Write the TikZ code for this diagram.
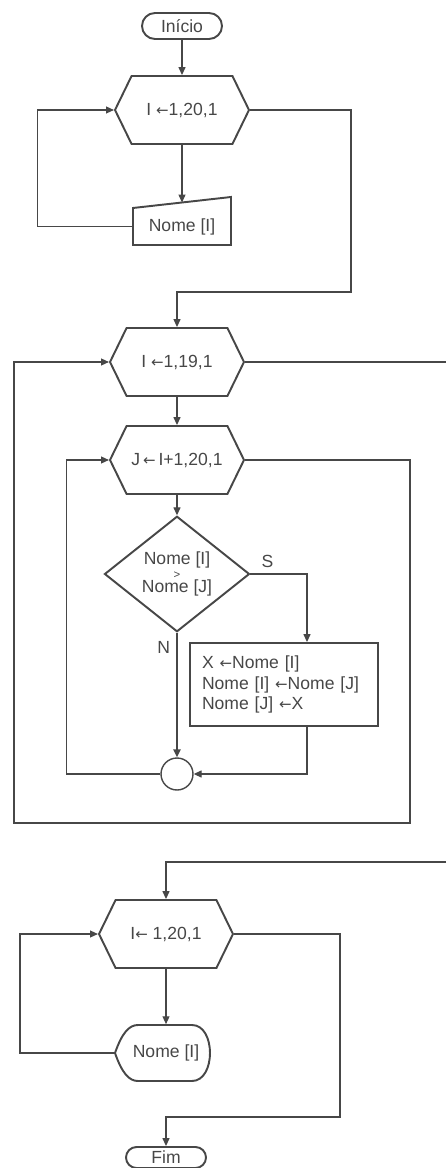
\documentclass[tikz,border=0pt]{standalone}
\usepackage{fontspec}
\setmainfont{Liberation Sans}
\newfontfamily\setafont{DejaVu Sans}
\usetikzlibrary{positioning,arrows.meta,calc,shapes.misc,shapes.symbols,shapes.geometric}
\colorlet{fluxo}{black!72}
\def\pxu{0.02cm}
\newcommand{\atr}{{\setafont\fontsize{8.5}{8.5}\selectfont ←}}

\begin{document}
\begin{tikzpicture}[x=0.02cm, y=-0.02cm, >={Triangle[length=4.5pt,width=4pt]},
    every node/.style={font=\fontsize{10}{11.5}\selectfont, text=fluxo},
    linha/.style={draw=fluxo, line width=0.6pt},
    seta/.style={linha, ->},
    borda/.style={draw=fluxo, line width=1.1pt},
    term/.style={borda, rounded rectangle, minimum width=80*\pxu, minimum height=26*\pxu, inner sep=0pt},
    laco/.style={borda, signal, signal to=west and east, signal pointer angle=128,
      minimum width=134*\pxu, minimum height=68*\pxu, inner sep=0pt},
    decisao/.style={borda, diamond, minimum width=145*\pxu, minimum height=103*\pxu, inner sep=0pt,
      align=center, font=\fontsize{10}{8.2}\selectfont},
    proc/.style={borda, rectangle, text width=164*\pxu, inner xsep=12*\pxu, minimum height=83*\pxu, align=left},
    con/.style={draw=fluxo, line width=0.8pt, circle, minimum size=32*\pxu, inner sep=0pt}]
  \useasboundingbox (0,0) rectangle (446,1168);

  % leitura dos nomes
  \node[term] (ini) at (182,26) {Início};
  \node[laco] (h1) at (182,110) {I \atr1,20,1};
  \node[inner sep=0pt, minimum width=98*\pxu, minimum height=37*\pxu] (rd1) at (182,226.5) {Nome [I]};
  \draw[borda, shift={(rd1)}] (-49,18.5) -- (-49,-18.5) -- (0,-24) coordinate (rd1t) -- (49,-29.5) -- (49,18.5) -- cycle;

  \draw[seta] (ini.south) -- (h1.north);
  \draw[seta] (h1.south) -- (rd1t);
  \draw[seta] (rd1.west) -- ++(-95,0) |- (h1.west);

  % ordenacao
  \node[laco] (h2) at (177,362) {I \atr1,19,1};
  \node[laco] (h3) at (177,460) {J\,\atr\,I+1,20,1};
  \node[decisao] (dec) at (177,574) {Nome [I]\\{\fontsize{6.5}{6.5}\selectfont >}\\Nome [J]};
  \node[proc] (troca) at (284,684.5) {X \atr Nome [I]\\Nome [I] \atr Nome [J]\\Nome [J] \atr X};
  \node[con] (cn) at (177,774) {};
  \coordinate (corte1) at (446,362);

  \draw[seta] (h1.east) -| (351,292) -| (h2.north);
  \draw[linha] (h2.east) -- (corte1);
  \draw[seta] (h2.south) -- (h3.north);
  \draw[seta] (h3.south) -- (dec.north);
  \draw[seta] (dec.east) -| node[pos=0.15, above]{S} ([xshift=23*\pxu]troca.north);
  \draw[seta, line width=1.1pt] (dec.south) -- node[pos=0.12, left]{N} (cn.north);
  \draw[seta] ([xshift=23*\pxu]troca.south) |- (cn.east);
  \draw[seta] (cn.west) -- ++(-94,0) |- (h3.west);
  \draw[seta] (h3.east) -| (410,823) -- (14,823) |- (h2.west);

  % escrita dos nomes
  \coordinate (corte2) at (446,862);
  \node[laco] (h4) at (166,934) {I\atr\ 1,20,1};
  \node[inner sep=0pt, minimum width=95*\pxu, minimum height=57*\pxu] (out1) at (166,1053) {Nome [I]};
  \draw[borda, shift={(out1)}] (-51,0) coordinate (out1p) .. controls (-44,-20) and (-37,-28) .. (-28,-28)
    -- (26,-28) .. controls (50,-28) and (50,28) .. (26,28) -- (-28,28)
    .. controls (-37,28) and (-44,20) .. (-51,0) -- cycle;
  \node[term, minimum height=21*\pxu] (fim) at (166,1157.5) {Fim};

  \draw[seta] (corte2) -| (h4.north);
  \draw[seta] (h4.south) -- (out1.north);
  \draw[seta] (out1p) -- ++(-95,0) |- (h4.west);
  \draw[seta] (h4.east) -| (340,1117) -| (fim.north);
\end{tikzpicture}
\end{document}
